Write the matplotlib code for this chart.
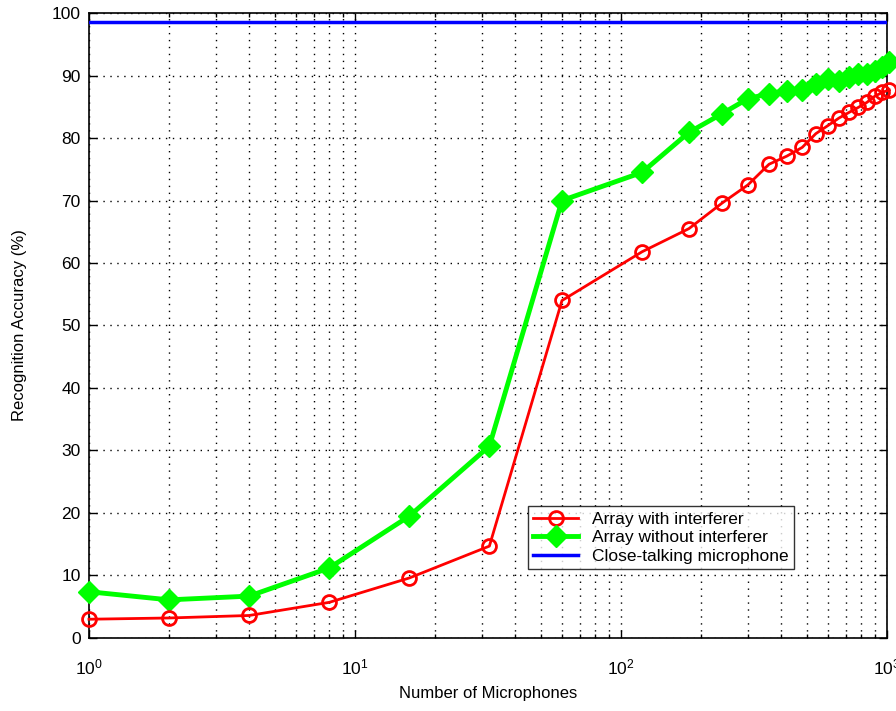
import numpy as np
import matplotlib.pyplot as plt
from matplotlib.ticker import LogLocator, NullFormatter

plt.rcParams['font.family'] = ['Liberation Sans', 'DejaVu Sans']
plt.rcParams['mathtext.fontset'] = 'custom'
plt.rcParams['mathtext.rm'] = 'Liberation Sans'
plt.rcParams['mathtext.it'] = 'Liberation Sans'

# =========================
# Data
# =========================
n_mics = [1, 2, 4, 8, 16, 32, 60, 120, 180, 240, 300, 360, 420, 480,
          540, 600, 660, 720, 780, 840, 900, 960, 1020]

with_interferer = [3.0, 3.2, 3.6, 5.7, 9.6, 14.7, 54.0, 61.8, 65.5, 69.6,
                   72.5, 75.8, 77.1, 78.5, 80.7, 82.0, 83.2, 84.1, 84.9,
                   85.7, 86.7, 87.3, 87.7]

without_interferer = [7.4, 6.1, 6.7, 11.2, 19.5, 30.7, 70.0, 74.5, 80.9,
                      83.9, 86.3, 87.1, 87.6, 87.7, 88.7, 89.5, 89.2, 89.7,
                      90.3, 90.3, 90.7, 91.3, 92.1]

close_talking = 98.6

# =========================
# Plot
# =========================
fig = plt.figure(figsize=(8.96, 7.11), dpi=100)
ax = fig.add_axes([0.0993, 0.1027, 0.8907, 0.879])

ax.plot(n_mics, with_interferer, color='#ff0000', lw=2, marker='o',
        ms=10, mfc='none', mec='#ff0000', mew=2,
        label='Array with interferer', clip_on=False, zorder=4)
ax.plot(n_mics, without_interferer, color='#00ff00', lw=3.5, marker='D',
        ms=11, mfc='#00ff00', mec='#00ff00',
        label='Array without interferer', clip_on=False, zorder=3)
ax.axhline(close_talking, color='#0000ff', lw=2.5,
           label='Close-talking microphone', zorder=5)

ax.set_xscale('log')
ax.set_xlim(1, 1000)
ax.set_ylim(0, 100)
ax.set_yticks(np.arange(0, 101, 10))
ax.xaxis.set_major_locator(LogLocator(base=10))
ax.xaxis.set_minor_locator(LogLocator(base=10, subs=np.arange(2, 10)))
ax.xaxis.set_minor_formatter(NullFormatter())

ax.grid(True, which='major', color='black', linestyle=(0, (1, 4)), lw=1)
ax.grid(True, which='minor', axis='x', color='black',
        linestyle=(0, (1, 4)), lw=1)

ax.tick_params(which='both', direction='in', top=True, right=True,
               labelsize=12.5, colors='black')
ax.tick_params(which='major', length=6, width=1)
ax.tick_params(which='minor', length=3, width=1)
ax.tick_params(axis='x', pad=14)
ax.tick_params(axis='y', pad=6)
for s in ax.spines.values():
    s.set_linewidth(1.2)

ax.set_xlabel('Number of Microphones', fontsize=12, labelpad=6)
ax.set_ylabel('Recognition Accuracy (%)', fontsize=12, labelpad=18)

leg = ax.legend(loc='lower left', bbox_to_anchor=(0.55, 0.11),
                fontsize=12.5, frameon=True, fancybox=False, borderpad=0.3,
                handlelength=2.6, labelspacing=0.2, borderaxespad=0)
leg.get_frame().set_edgecolor('black')
leg.get_frame().set_linewidth(1)

fig.savefig('out.png', dpi=100)
